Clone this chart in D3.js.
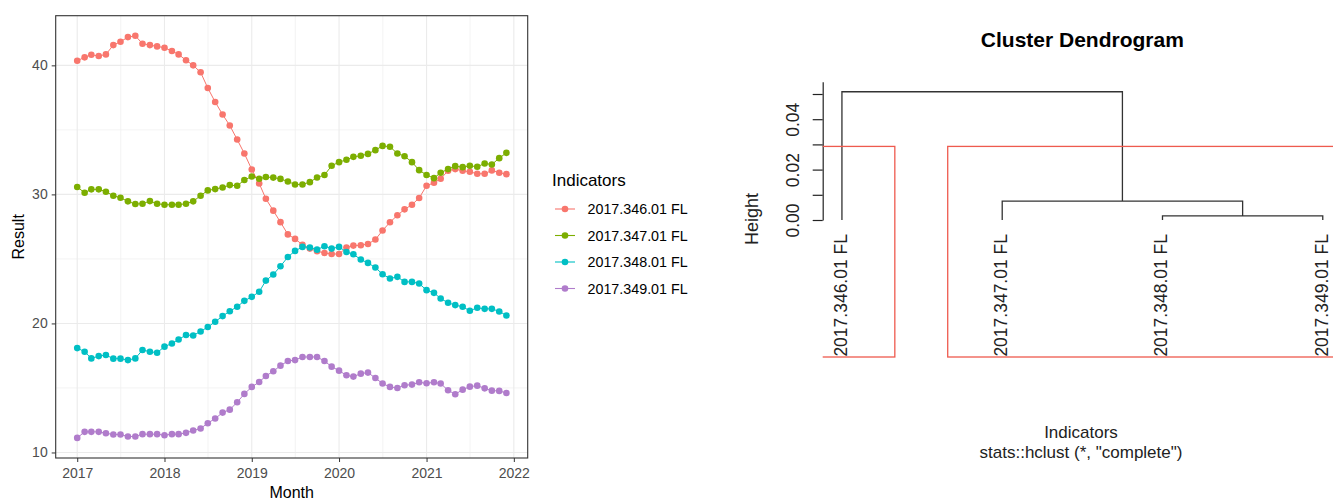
<!DOCTYPE html>
<html>
  <head>
    <title>Indicators and Cluster Dendrogram</title>
    <script src="https://d3js.org/d3.v7.min.js"></script>
    <style>
      body { margin: 0; background: #fff; }
      text { font-family: "Liberation Sans", Arial, sans-serif; }
    </style>
  </head>
  <body>
    <div id="chart"></div>
    <script>
      // Monthly results, Jan 2017 .. Dec 2021
      var startMonth = new Date(2017, 0, 1);
      var months = d3.timeMonth.range(startMonth, new Date(2022, 0, 1));

      var indicators = ["2017.346.01 FL", "2017.347.01 FL", "2017.348.01 FL", "2017.349.01 FL"];
      var colors = ["#F8766D", "#7CAE00", "#00BFC4", "#B07CCB"];

      var values346 = [40.36, 40.62, 40.82, 40.72, 40.85, 41.57, 41.83, 42.19, 42.29, 41.68,
                       41.57, 41.47, 41.37, 41.11, 40.85, 40.39, 40.00, 39.46, 38.25, 37.16,
                       36.19, 35.34, 34.25, 33.17, 31.93, 30.85, 29.66, 28.74, 27.85, 26.90,
                       26.55, 26.10, 25.80, 25.60, 25.46, 25.38, 25.38, 25.88, 26.03, 26.06,
                       26.16, 26.50, 27.20, 27.84, 28.38, 28.84, 29.20, 29.72, 30.67, 30.90,
                       31.21, 31.83, 31.96, 31.83, 31.75, 31.60, 31.60, 31.86, 31.68, 31.57];
      var values347 = [30.57, 30.13, 30.39, 30.39, 30.21, 29.90, 29.74, 29.46, 29.25, 29.28,
                       29.48, 29.28, 29.20, 29.20, 29.20, 29.28, 29.46, 29.90, 30.31, 30.41,
                       30.54, 30.72, 30.67, 31.11, 31.39, 31.21, 31.35, 31.30, 31.20, 31.00,
                       30.77, 30.77, 30.95, 31.31, 31.50, 32.22, 32.50, 32.68, 32.91, 32.99,
                       33.14, 33.43, 33.76, 33.69, 33.17, 32.96, 32.50, 31.88, 31.50, 31.26,
                       31.68, 31.96, 32.19, 32.11, 32.22, 32.14, 32.40, 32.32, 32.81, 33.22];
      var values348 = [18.09, 17.81, 17.29, 17.47, 17.55, 17.27, 17.27, 17.16, 17.29, 17.94,
                       17.81, 17.73, 18.20, 18.45, 18.76, 19.10, 19.07, 19.38, 19.72, 20.13,
                       20.57, 20.95, 21.29, 21.75, 22.06, 22.45, 23.32, 23.79, 24.43, 25.15,
                       25.62, 25.93, 25.88, 25.72, 25.98, 25.80, 25.93, 25.54, 25.36, 24.95,
                       24.69, 24.33, 23.81, 23.48, 23.61, 23.22, 23.22, 23.09, 22.58, 22.37,
                       21.93, 21.60, 21.42, 21.29, 20.98, 21.21, 21.13, 21.13, 20.93, 20.62];
      var values349 = [11.13, 11.60, 11.60, 11.60, 11.49, 11.39, 11.39, 11.24, 11.24, 11.42,
                       11.42, 11.42, 11.34, 11.42, 11.42, 11.52, 11.70, 11.86, 12.27, 12.63,
                       13.09, 13.32, 13.89, 14.54, 15.08, 15.46, 15.93, 16.29, 16.73, 17.09,
                       17.16, 17.40, 17.40, 17.40, 17.09, 16.65, 16.34, 15.98, 15.88, 16.11,
                       16.19, 15.77, 15.34, 15.08, 15.00, 15.21, 15.26, 15.44, 15.36, 15.44,
                       15.34, 14.82, 14.51, 14.87, 15.10, 15.18, 14.97, 14.79, 14.77, 14.61];
      var allValues = [values346, values347, values348, values349];

      var yearTicks = [2017, 2018, 2019, 2020, 2021, 2022];
      var resultTicks = [10, 20, 30, 40];
      var resultMinor = [15, 25, 35];

      // Dendrogram (hclust, complete linkage), merge heights
      var tree = {
        height: 0.0509,
        children: [
          { name: indicators[0], height: 0 },
          { height: 0.0075, children: [
              { name: indicators[1], height: 0 },
              { height: 0.0016, children: [
                  { name: indicators[2], height: 0 },
                  { name: indicators[3], height: 0 }
              ] }
          ] }
        ]
      };
      var heightTicks = [0, 0.01, 0.02, 0.03, 0.04, 0.05];
      var clusterGroups = [[0], [1, 2, 3]];

      var svg = d3.select("#chart").append("svg")
        .attr("width", 1333)
        .attr("height", 502);

      // ---------- left: line chart ----------
      var panel = { left: 55.7, right: 527.7, top: 15.7, bottom: 458 };

      var x = d3.scaleTime()
        .domain([d3.timeDay.offset(months[0], -90), d3.timeDay.offset(months[months.length - 1], 89)])
        .range([panel.left, panel.right]);

      var yMin = d3.min(allValues, function(s) { return d3.min(s); });
      var yMax = d3.max(allValues, function(s) { return d3.max(s); });
      var pad = (yMax - yMin) * 0.05;
      var y = d3.scaleLinear()
        .domain([yMin - pad, yMax + pad])
        .range([panel.bottom, panel.top]);

      var grid = svg.append("g");
      // minor grid
      grid.selectAll(".ymin").data(resultMinor).enter().append("line")
        .attr("x1", panel.left).attr("x2", panel.right)
        .attr("y1", function(d) { return y(d); }).attr("y2", function(d) { return y(d); })
        .attr("stroke", "#F0F0F0").attr("stroke-width", 0.8);
      grid.selectAll(".xmin").data(yearTicks.slice(0, 5)).enter().append("line")
        .attr("y1", panel.top).attr("y2", panel.bottom)
        .attr("x1", function(d) { return x(new Date(d, 6, 2)); })
        .attr("x2", function(d) { return x(new Date(d, 6, 2)); })
        .attr("stroke", "#F0F0F0").attr("stroke-width", 0.8);
      // major grid
      grid.selectAll(".ymaj").data(resultTicks).enter().append("line")
        .attr("x1", panel.left).attr("x2", panel.right)
        .attr("y1", function(d) { return y(d); }).attr("y2", function(d) { return y(d); })
        .attr("stroke", "#EBEBEB").attr("stroke-width", 1.1);
      grid.selectAll(".xmaj").data(yearTicks).enter().append("line")
        .attr("y1", panel.top).attr("y2", panel.bottom)
        .attr("x1", function(d) { return x(new Date(d, 0, 1)); })
        .attr("x2", function(d) { return x(new Date(d, 0, 1)); })
        .attr("stroke", "#EBEBEB").attr("stroke-width", 1.1);

      var line = d3.line()
        .x(function(d, i) { return x(months[i]); })
        .y(function(d) { return y(d); });

      allValues.forEach(function(series, k) {
        svg.append("path")
          .datum(series)
          .attr("d", line)
          .attr("fill", "none")
          .attr("stroke", colors[k])
          .attr("stroke-width", 1);
        svg.append("g").selectAll("circle")
          .data(series)
          .enter()
          .append("circle")
          .attr("cx", function(d, i) { return x(months[i]); })
          .attr("cy", function(d) { return y(d); })
          .attr("r", 3.3)
          .attr("fill", colors[k]);
      });

      svg.append("rect")
        .attr("x", panel.left).attr("y", panel.top)
        .attr("width", panel.right - panel.left).attr("height", panel.bottom - panel.top)
        .attr("fill", "none").attr("stroke", "#333333").attr("stroke-width", 1.1);

      // axes
      var xAxis = svg.append("g")
        .attr("transform", "translate(0," + panel.bottom + ")")
        .call(d3.axisBottom(x)
          .tickValues(yearTicks.map(function(d) { return new Date(d, 0, 1); }))
          .tickFormat(d3.timeFormat("%Y"))
          .tickSize(4).tickPadding(6));
      var yAxis = svg.append("g")
        .attr("transform", "translate(" + panel.left + ",0)")
        .call(d3.axisLeft(y).tickValues(resultTicks).tickSize(4).tickPadding(4));
      [xAxis, yAxis].forEach(function(a) {
        a.select(".domain").remove();
        a.selectAll(".tick line").attr("stroke", "#333333");
        a.selectAll(".tick text").attr("fill", "#4D4D4D").style("font-size", "14px");
      });

      svg.append("text")
        .attr("x", (panel.left + panel.right) / 2).attr("y", 492)
        .attr("dy", "0.35em").attr("text-anchor", "middle")
        .style("font-size", "16px").attr("fill", "#000")
        .text("Month");
      svg.append("text")
        .attr("transform", "translate(18," + (panel.top + panel.bottom) / 2 + ") rotate(-90)")
        .attr("dy", "0.35em").attr("text-anchor", "middle")
        .style("font-size", "16px").attr("fill", "#000")
        .text("Result");

      // legend
      var legend = svg.append("g").attr("transform", "translate(552,0)");
      legend.append("text")
        .attr("x", 0).attr("y", 186)
        .style("font-size", "17px").attr("fill", "#000")
        .text("Indicators");
      var item = legend.selectAll(".item").data(indicators).enter().append("g")
        .attr("transform", function(d, i) { return "translate(0," + (209 + i * 26.5) + ")"; });
      item.append("line")
        .attr("x1", 3).attr("x2", 23)
        .attr("stroke", function(d, i) { return colors[i]; }).attr("stroke-width", 1.1);
      item.append("circle")
        .attr("cx", 13).attr("r", 3.3)
        .attr("fill", function(d, i) { return colors[i]; });
      item.append("text")
        .attr("x", 35.5).attr("dy", "0.35em")
        .style("font-size", "14.3px").attr("fill", "#000")
        .text(function(d) { return d; });

      // ---------- right: cluster dendrogram ----------
      // leaves at 0..n-1 in order, each merge at the middle of its two children (as plot.hclust)
      var root = d3.hierarchy(tree);
      var leafIndex = 0;
      root.eachAfter(function(n) {
        if (!n.children) { n.x = leafIndex++; }
        else { n.x = d3.mean(n.children, function(c) { return c.x; }); }
      });

      var dx = d3.scaleLinear().domain([-0.12, indicators.length - 1 + 0.12]).range([822.7, 1342]);
      var dy = d3.scaleLinear().domain([0, 0.05]).range([220, 94]);
      var plotBottom = 357;
      var dendFont = "17.5px";

      var dend = svg.append("g");
      dend.append("text")
        .attr("x", (dx.range()[0] + dx.range()[1]) / 2).attr("y", 40)
        .attr("dy", "0.35em").attr("text-anchor", "middle")
        .style("font-size", "21px").style("font-weight", "bold").attr("fill", "#000")
        .text("Cluster Dendrogram");

      // y axis
      var axisScale = dy.copy().domain([0, 0.0549]).range([dy(0), dy(0.0549)]);
      var hAxis = dend.append("g")
        .attr("transform", "translate(" + dx.range()[0] + ",0)")
        .call(d3.axisLeft(axisScale)
          .tickValues(heightTicks)
          .tickSize(10).tickSizeOuter(0)
          .tickFormat(function(d, i) { return i % 2 === 0 ? d3.format(".2f")(d) : ""; }));
      hAxis.select(".domain").attr("stroke", "#222").attr("stroke-width", 1.2);
      hAxis.selectAll(".tick line").attr("stroke", "#222").attr("stroke-width", 1.2);
      hAxis.selectAll(".tick text")
        .attr("x", -30).attr("dy", "0.35em")
        .attr("text-anchor", "middle")
        .attr("transform", function() { return "rotate(-90," + (-30) + ",0)"; })
        .attr("fill", "#222").style("font-size", dendFont);

      dend.append("text")
        .attr("transform", "translate(752,219) rotate(-90)")
        .attr("dy", "0.35em").attr("text-anchor", "middle")
        .style("font-size", "18px").attr("fill", "#222")
        .text("Height");

      // branches
      var nodeX = function(n) { return dx(n.x); };
      var nodeY = function(n) { return dy(n.data.height); };
      root.descendants().forEach(function(n) {
        if (!n.children) return;
        var a = n.children[0], b = n.children[1];
        dend.append("path")
          .attr("d", "M" + nodeX(a) + "," + nodeY(a) + "V" + nodeY(n) +
                     "H" + nodeX(b) + "V" + nodeY(b))
          .attr("fill", "none").attr("stroke", "#333").attr("stroke-width", 1.3);
      });

      // leaf labels
      root.leaves().forEach(function(n) {
        var lx = nodeX(n) - 1.5, ly = 234;
        dend.append("text")
          .attr("x", lx).attr("y", ly)
          .attr("dy", "0.36em")
          .attr("text-anchor", "end")
          .attr("transform", "rotate(-90," + lx + "," + ly + ")")
          .style("font-size", dendFont).attr("fill", "#222")
          .text(n.data.name);
      });

      // rect.hclust, k = 2
      var mergeHeights = root.descendants().filter(function(n) { return n.children; })
        .map(function(n) { return n.data.height; }).sort(d3.ascending);
      var cutHeight = (mergeHeights[mergeHeights.length - 2] + mergeHeights[mergeHeights.length - 1]) / 2;

      svg.append("clipPath").attr("id", "dendClip").append("rect")
        .attr("x", dx.range()[0]).attr("y", 0)
        .attr("width", dx.range()[1] - dx.range()[0]).attr("height", plotBottom + 2);

      dend.append("g").attr("clip-path", "url(#dendClip)")
        .selectAll("rect").data(clusterGroups).enter().append("rect")
        .attr("x", function(g) { return dx(g[0] - 0.34); })
        .attr("width", function(g) { return dx(g[g.length - 1] + 0.33) - dx(g[0] - 0.34); })
        .attr("y", dy(cutHeight))
        .attr("height", plotBottom - dy(cutHeight))
        .attr("fill", "none").attr("stroke", "#EE5A4E").attr("stroke-width", 1.3);

      dend.append("text")
        .attr("x", 1081).attr("y", 432)
        .attr("dy", "0.35em").attr("text-anchor", "middle")
        .style("font-size", "17px").attr("fill", "#222")
        .text("Indicators");
      dend.append("text")
        .attr("x", 1081).attr("y", 452)
        .attr("dy", "0.35em").attr("text-anchor", "middle")
        .style("font-size", "17px").attr("fill", "#222")
        .text("stats::hclust (*, \"complete\")");
    </script>
  </body>
</html>
